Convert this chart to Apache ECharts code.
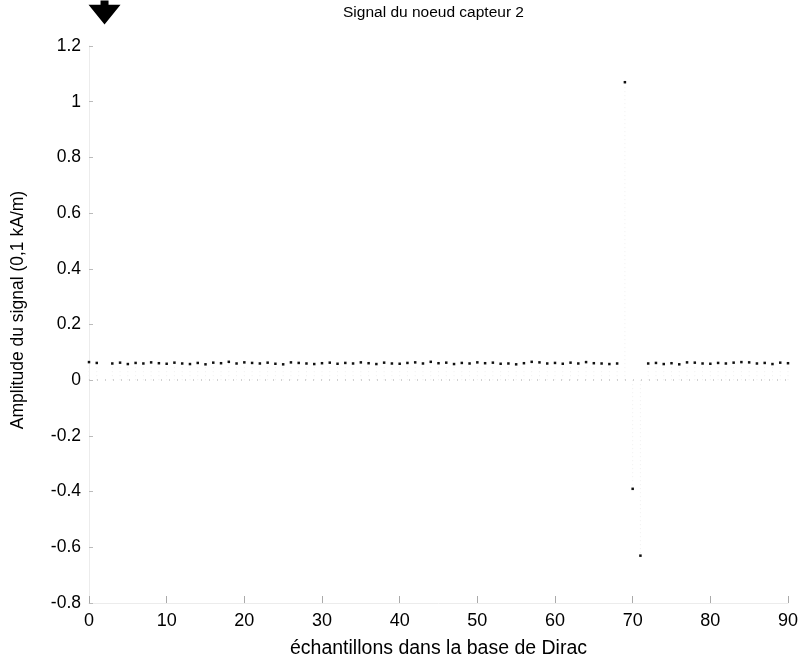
<!DOCTYPE html>
<html>
<head>
<meta charset="utf-8">
<title>Signal du noeud capteur 2</title>
<script src="https://cdn.jsdelivr.net/npm/echarts@6/dist/echarts.min.js"></script>
<style>
    html, body { margin: 0; padding: 0; background: #fff; }
    #chart { width: 804px; height: 665px; }
</style>
</head>
<body>
<div id="chart"></div>
<script>
    // échantillons 0..90
    var samples = [];
    for (var i = 0; i <= 90; i++) samples.push(i);

    // amplitude (0,1 kA/m)
    var signal = [
        0.065, 0.062, null,  0.060, 0.063, 0.058, 0.062, 0.060, 0.064, 0.061,
        0.059, 0.063, 0.060, 0.058, 0.062, 0.057, 0.063, 0.061, 0.066, 0.060,
        0.064, 0.062, 0.060, 0.063, 0.059, 0.057, 0.064, 0.062, 0.060, 0.058,
        0.061, 0.063, 0.059, 0.062, 0.060, 0.064, 0.061, 0.058, 0.063, 0.060,
        0.059, 0.062, 0.064, 0.060, 0.066, 0.061, 0.063, 0.058, 0.062, 0.060,
        0.064, 0.061, 0.063, 0.059, 0.060, 0.057, 0.061, 0.066, 0.064, 0.060,
        0.062, 0.059, 0.063, 0.060, 0.065, 0.061, 0.060, 0.058, 0.060, 1.07,
        -0.39, -0.63, 0.060, 0.062, 0.058, 0.061, 0.057, 0.064, 0.063, 0.060,
        0.059, 0.062, 0.060, 0.063, 0.065, 0.064, 0.060, 0.062, 0.058, 0.063, 0.061
    ];

    // échantillon hors échelle (flèche en haut)
    var offScale = [[2, 1.32]];

    var xTicks = [0, 10, 20, 30, 40, 50, 60, 70, 80, 90];
    var yMin = -0.8, yMax = 1.2, yStep = 0.2;

    var points = samples.map(function (s, k) { return [s, signal[k]]; })
        .filter(function (p) { return p[1] !== null; });

    var chart = echarts.init(document.getElementById('chart'));
    var font = 'Liberation Sans, Arial, Helvetica, sans-serif';

    var option = {
        animation: false,
        backgroundColor: '#fff',
        title: {
            text: 'Signal du noeud capteur 2',
            left: 338,
            top: 0,
            textStyle: { fontFamily: font, fontSize: 15.5, fontWeight: 'normal', color: '#000' }
        },
        // titre de l'axe y, légèrement au-dessus du milieu comme sur l'original
        graphic: [{
            type: 'text',
            x: 18,
            y: 310,
            rotation: Math.PI / 2,
            style: {
                text: 'Amplitude du signal (0,1 kA/m)',
                font: '17.5px ' + font,
                fill: '#000',
                align: 'center',
                verticalAlign: 'middle'
            }
        }],
        grid: { left: 89, right: 16, top: 46, bottom: 62 },
        xAxis: {
            type: 'value',
            min: xTicks[0],
            max: xTicks[xTicks.length - 1],
            interval: 10,
            name: 'échantillons dans la base de Dirac',
            nameLocation: 'middle',
            nameGap: 36,
            nameTextStyle: { fontFamily: font, fontSize: 19.5, color: '#000' },
            axisLine: { show: true, onZero: false, lineStyle: { color: '#ececec', width: 1 } },
            axisTick: { show: true, inside: true, length: 7, lineStyle: { color: '#aaa' } },
            axisLabel: { fontFamily: font, fontSize: 18, color: '#000', margin: 9 },
            splitLine: { show: false }
        },
        yAxis: {
            type: 'value',
            min: yMin,
            max: yMax,
            interval: yStep,
            axisLine: { show: true, onZero: false, lineStyle: { color: '#ececec', width: 1 } },
            axisTick: { show: true, inside: true, length: 4, lineStyle: { color: '#bbb' } },
            axisLabel: {
                fontFamily: font, fontSize: 17.5, color: '#000', margin: 8,
                formatter: function (v) { return String(Math.round(v * 10) / 10); }
            },
            splitLine: { show: false }
        },
        series: [
            {
                // tiges pointillées (presque effacées sur l'original)
                type: 'custom',
                silent: true,
                data: points,
                renderItem: function (params, api) {
                    var x = api.value(0), y = api.value(1);
                    var p0 = api.coord([x, 0]);
                    var p1 = api.coord([x, y]);
                    return {
                        type: 'line',
                        shape: { x1: p0[0], y1: p0[1], x2: p1[0], y2: p1[1] },
                        style: { stroke: '#efefef', lineWidth: 1, lineDash: [1, 3] }
                    };
                },
                markLine: {
                    silent: true,
                    symbol: 'none',
                    label: { show: false },
                    lineStyle: { color: '#c4c4c4', type: [1, 7], width: 1.5 },
                    data: [{ yAxis: 0 }]
                }
            },
            {
                type: 'scatter',
                data: points,
                symbol: 'rect',
                symbolSize: 2.5,
                itemStyle: { color: '#111', opacity: 1 }
            },
            {
                type: 'scatter',
                data: offScale,
                clip: false,
                symbol: 'path://M3,0 L5,0 L5,1.2 L8,1.2 L4,7 L0,1.2 L3,1.2 Z',
                symbolSize: [32, 24],
                itemStyle: { color: '#000', opacity: 1 }
            }
        ]
    };
    chart.setOption(option);
</script>
</body>
</html>
